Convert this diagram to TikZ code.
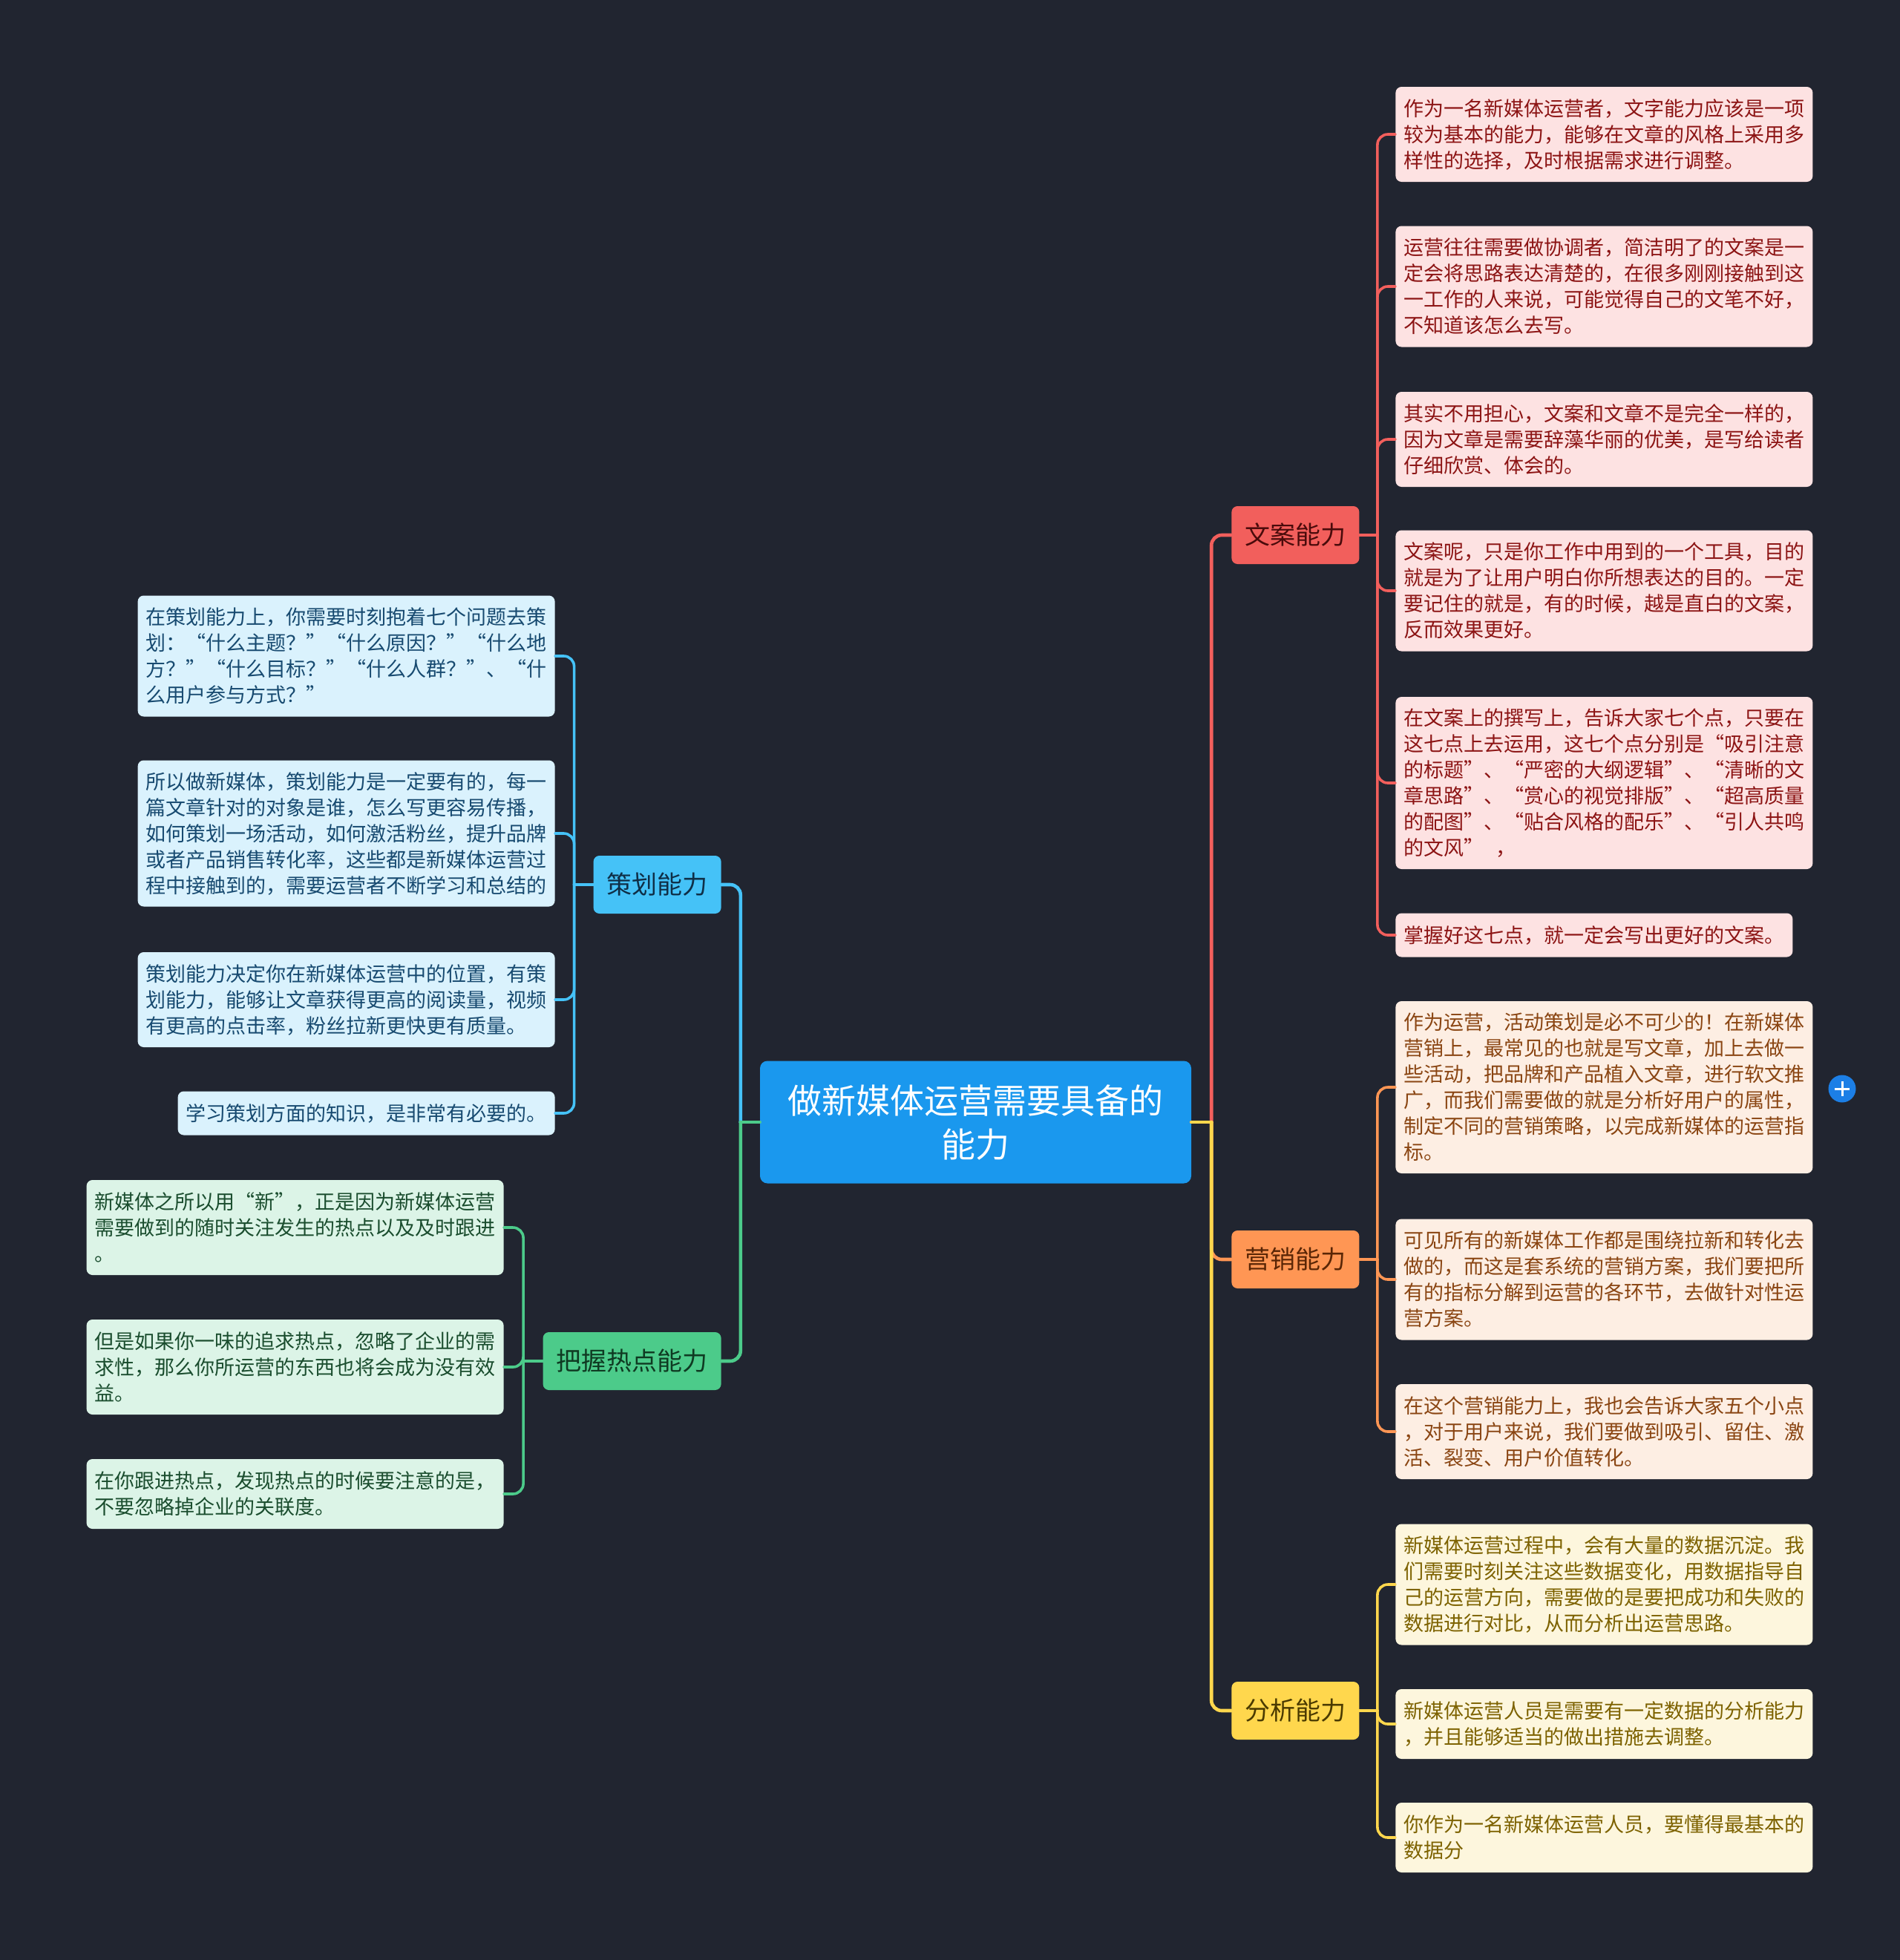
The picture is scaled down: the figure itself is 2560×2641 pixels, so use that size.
\documentclass[tikz,border=0pt]{standalone}
\usepackage{fontspec}
\newfontfamily\cjk{Noto Sans CJK SC}
\usetikzlibrary{calc}
\definecolor{bgc}{HTML}{212530}
\definecolor{rootc}{HTML}{1A98EE}
\definecolor{redM}{HTML}{F25F5C}\definecolor{redT}{HTML}{4A0B0B}
\definecolor{redL}{HTML}{FDE2E2}\definecolor{redLT}{HTML}{8C1414}
\definecolor{orM}{HTML}{FF9654}\definecolor{orT}{HTML}{5A2606}
\definecolor{orL}{HTML}{FDEEE3}\definecolor{orLT}{HTML}{8A4512}
\definecolor{yeM}{HTML}{FFD74D}\definecolor{yeT}{HTML}{4A3A00}
\definecolor{yeL}{HTML}{FDF6DD}\definecolor{yeLT}{HTML}{7D6200}
\definecolor{blM}{HTML}{45C2F7}\definecolor{blT}{HTML}{0F2F47}
\definecolor{blL}{HTML}{DAF2FD}\definecolor{blLT}{HTML}{174A70}
\definecolor{grM}{HTML}{4CCB8A}\definecolor{grT}{HTML}{0F3A22}
\definecolor{grL}{HTML}{DCF4E7}\definecolor{grLT}{HTML}{1A4D2E}
\definecolor{btnc}{HTML}{1C7FE6}
\newcommand\qs{\nobreak\hfill}
\newcommand\mmlink[3]{%
  \coordinate (mmA) at (#2);
  \coordinate (mmB) at (#3);
  \coordinate (mmM) at ($(mmA)!0.5!(mmA -| mmB)$);
  \draw[#1] (mmA) -- (mmM);
  \draw[#1, rounded corners=7pt] (mmM) |- (mmB);
}
\tikzset{
  rootnode/.style={fill=rootc, text=white, rounded corners=5pt, align=center,
    minimum width=290.5pt, minimum height=82.5pt, inner sep=0pt,
    font=\cjk\fontsize{23pt}{29.5pt}\selectfont},
  mainnode/.style={rounded corners=4pt, inner xsep=9pt, inner ysep=0pt,
    minimum height=39pt, font=\cjk\fontsize{17pt}{20pt}\selectfont},
  leaf/.style={rounded corners=4pt, inner xsep=5.5pt, inner ysep=0pt, align=left,
    font=\cjk\fontsize{13.5pt}{17.5pt}\selectfont},
  leafw/.style={leaf, text width=270pt},
  mainlink/.style={line width=2.3pt, line cap=round},
  sublink/.style={line width=1.8pt, line cap=round},
}
\begin{document}
\begin{tikzpicture}[x=0.5pt,y=-0.5pt]
\fill[bgc] (0,0) rectangle (2560,2641);
\useasboundingbox (0,0) rectangle (2560,2641);

% root and main branches
\node[rootnode] (root) at (1314.5,1512) {做新媒体运营需要具备的\\能力};
\node[mainnode, fill=redM, text=redT, anchor=west] (wa) at (1659,721) {文案能力};
\node[mainnode, fill=orM, text=orT, anchor=west] (yx) at (1659,1697) {营销能力};
\node[mainnode, fill=yeM, text=yeT, anchor=west] (fx) at (1659,2305) {分析能力};
\node[mainnode, fill=blM, text=blT, anchor=east] (ch) at (972,1192) {策划能力};
\node[mainnode, fill=grM, text=grT, anchor=east] (rd) at (972,1834) {把握热点能力};

% 文案能力 leaves
\node[leafw, fill=redL, text=redLT, minimum height=64pt, anchor=west] (r1) at (1880,181)
  {作为一名新媒体运营者，文字能力应该是一项\\较为基本的能力，能够在文章的风格上采用多\\样性的选择，及时根据需求进行调整。};
\node[leafw, fill=redL, text=redLT, minimum height=81.5pt, anchor=west] (r2) at (1880,386)
  {运营往往需要做协调者，简洁明了的文案是一\\定会将思路表达清楚的，在很多刚刚接触到这\\一工作的人来说，可能觉得自己的文笔不好，\\不知道该怎么去写。};
\node[leafw, fill=redL, text=redLT, minimum height=64pt, anchor=west] (r3) at (1880,592)
  {其实不用担心，文案和文章不是完全一样的，\\因为文章是需要辞藻华丽的优美，是写给读者\\仔细欣赏、体会的。};
\node[leafw, fill=redL, text=redLT, minimum height=81.5pt, anchor=west] (r4) at (1880,796)
  {文案呢，只是你工作中用到的一个工具，目的\\就是为了让用户明白你所想表达的目的。一定\\要记住的就是，有的时候，越是直白的文案，\\反而效果更好。};
\node[leafw, fill=redL, text=redLT, minimum height=116pt, anchor=west] (r5) at (1880,1055)
  {在文案上的撰写上，告诉大家七个点，只要在\\这七点上去运用，这七个点分别是“吸引注意\\的标题”、\qs“严密的大纲逻辑”、\qs“清晰的文\\章思路”、\qs“赏心的视觉排版”、\qs“超高质量\\的配图”、\qs“贴合风格的配乐”、\qs“引人共鸣\\的文风”\hspace{0.6em}，};
\node[leaf, fill=redL, text=redLT, minimum height=29.5pt, anchor=west] (r6) at (1880,1260)
  {掌握好这七点，就一定会写出更好的文案。};

% 营销能力 leaves
\node[leafw, fill=orL, text=orLT, minimum height=116pt, anchor=west] (o1) at (1880,1465)
  {作为运营，活动策划是必不可少的！在新媒体\\营销上，最常见的也就是写文章，加上去做一\\些活动，把品牌和产品植入文章，进行软文推\\广，而我们需要做的就是分析好用户的属性，\\制定不同的营销策略，以完成新媒体的运营指\\标。};
\node[leafw, fill=orL, text=orLT, minimum height=81.5pt, anchor=west] (o2) at (1880,1724)
  {可见所有的新媒体工作都是围绕拉新和转化去\\做的，而这是套系统的营销方案，我们要把所\\有的指标分解到运营的各环节，去做针对性运\\营方案。};
\node[leafw, fill=orL, text=orLT, minimum height=64pt, anchor=west] (o3) at (1880,1929)
  {在这个营销能力上，我也会告诉大家五个小点\\，对于用户来说，我们要做到吸引、留住、激\\活、裂变、用户价值转化。};

% 分析能力 leaves
\node[leafw, fill=yeL, text=yeLT, minimum height=81.5pt, anchor=west] (y1) at (1880,2135)
  {新媒体运营过程中，会有大量的数据沉淀。我\\们需要时刻关注这些数据变化，用数据指导自\\己的运营方向，需要做的是要把成功和失败的\\数据进行对比，从而分析出运营思路。};
\node[leafw, fill=yeL, text=yeLT, minimum height=47pt, anchor=west] (y2) at (1880,2323)
  {新媒体运营人员是需要有一定数据的分析能力\\，并且能够适当的做出措施去调整。};
\node[leafw, fill=yeL, text=yeLT, minimum height=47pt, anchor=west] (y3) at (1880,2476)
  {你作为一名新媒体运营人员，要懂得最基本的\\数据分};

% 策划能力 leaves
\node[leafw, fill=blL, text=blLT, minimum height=81.5pt, anchor=east] (b1) at (748,884)
  {在策划能力上，你需要时刻抱着七个问题去策\\划：“什么主题？”\qs“什么原因？”\qs“什么地\\方？”\qs“什么目标？”\qs“什么人群？”、\qs“什\\么用户参与方式？”};
\node[leafw, fill=blL, text=blLT, minimum height=98.5pt, anchor=east] (b2) at (748,1123)
  {所以做新媒体，策划能力是一定要有的，每一\\篇文章针对的对象是谁，怎么写更容易传播，\\如何策划一场活动，如何激活粉丝，提升品牌\\或者产品销售转化率，这些都是新媒体运营过\\程中接触到的，需要运营者不断学习和总结的};
\node[leafw, fill=blL, text=blLT, minimum height=64pt, anchor=east] (b3) at (748,1347)
  {策划能力决定你在新媒体运营中的位置，有策\\划能力，能够让文章获得更高的阅读量，视频\\有更高的点击率，粉丝拉新更快更有质量。};
\node[leaf, fill=blL, text=blLT, minimum height=29.5pt, anchor=east] (b4) at (748,1500)
  {学习策划方面的知识，是非常有必要的。};

% 把握热点能力 leaves
\node[leafw, fill=grL, text=grLT, minimum height=64pt, anchor=east] (g1) at (679,1654)
  {新媒体之所以用“新”，正是因为新媒体运营\\需要做到的随时关注发生的热点以及及时跟进\\。};
\node[leafw, fill=grL, text=grLT, minimum height=64pt, anchor=east] (g2) at (679,1842)
  {但是如果你一味的追求热点，忽略了企业的需\\求性，那么你所运营的东西也将会成为没有效\\益。};
\node[leafw, fill=grL, text=grLT, minimum height=47pt, anchor=east] (g3) at (679,2013)
  {在你跟进热点，发现热点的时候要注意的是，\\不要忽略掉企业的关联度。};

% main connectors
\mmlink{mainlink, redM}{root.east}{wa.west}
\mmlink{mainlink, orM}{root.east}{yx.west}
\mmlink{mainlink, yeM}{root.east}{fx.west}
\mmlink{mainlink, blM}{root.west}{ch.east}
\mmlink{mainlink, grM}{root.west}{rd.east}

% sub connectors
\foreach \c in {r1,r2,r3,r4,r5,r6} {\mmlink{sublink, redM}{wa.east}{\c.west}}
\foreach \c in {o1,o2,o3} {\mmlink{sublink, orM}{yx.east}{\c.west}}
\foreach \c in {y1,y2,y3} {\mmlink{sublink, yeM}{fx.east}{\c.west}}
\foreach \c in {b1,b2,b3,b4} {\mmlink{sublink, blM}{ch.west}{\c.east}}
\foreach \c in {g1,g2,g3} {\mmlink{sublink, grM}{rd.west}{\c.east}}

% collapse button
\node[circle, fill=btnc, minimum size=18.5pt, inner sep=0pt] (btn) at (2482,1467) {};
\draw[white, line width=1.5pt] ($(btn.center)+(-10,0)$) -- ($(btn.center)+(10,0)$);
\draw[white, line width=1.5pt] ($(btn.center)+(0,-10)$) -- ($(btn.center)+(0,10)$);
\end{tikzpicture}
\end{document}
